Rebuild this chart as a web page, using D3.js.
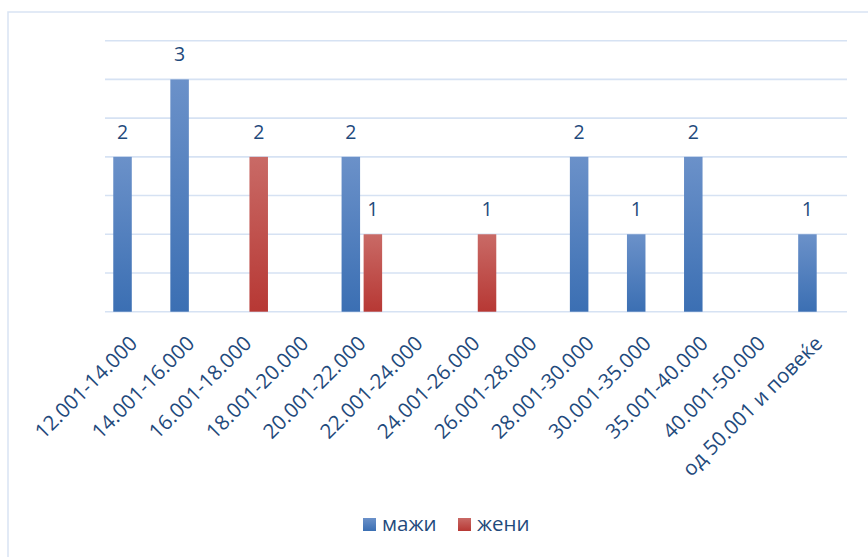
<!DOCTYPE html>
<html lang="mk">
<head>
<meta charset="utf-8">
<script src="https://d3js.org/d3.v7.min.js"></script>
<style>
  body { margin: 0; background: #fff; }
  svg { display: block; font-family: "Open Sans", sans-serif; }
</style>
</head>
<body>
<div id="chart"></div>
<script>
// categories (income ranges) and the two series
var categories = ["12.001-14.000", "14.001-16.000", "16.001-18.000", "18.001-20.000",
  "20.001-22.000", "22.001-24.000", "24.001-26.000", "26.001-28.000", "28.001-30.000",
  "30.001-35.000", "35.001-40.000", "40.001-50.000", "од 50.001 и повеќе"];
var seriesNames = ["мажи", "жени"];
var mazhi = [2, 3, 0, 0, 2, 0, 0, 0, 2, 1, 2, 0, 1];
var zheni = [0, 0, 2, 0, 1, 0, 1, 0, 0, 0, 0, 0, 0];

var width = 868, height = 557;
var plotLeft = 105, plotRight = 847, plotTop = 40.7, plotBottom = 311.7;
var textColor = "#1f4a7c";
var gridColor = "#d6e2f3";

var svg = d3.select("#chart").append("svg")
  .attr("width", width)
  .attr("height", height);

// gradients for the bars
var defs = svg.append("defs");
var grads = [
  { id: "gBlue", top: "#6b91c9", bottom: "#3b6fb3" },
  { id: "gRed", top: "#c96a66", bottom: "#b73834" }
];
grads.forEach(function(g) {
  var lg = defs.append("linearGradient")
    .attr("id", g.id)
    .attr("x1", 0).attr("y1", 0).attr("x2", 0).attr("y2", 1);
  lg.append("stop").attr("offset", "0%").attr("stop-color", g.top);
  lg.append("stop").attr("offset", "100%").attr("stop-color", g.bottom);
});

// chart border (left and top visible)
svg.append("rect")
  .attr("x", 8).attr("y", 12)
  .attr("width", 880).attr("height", 570)
  .attr("fill", "none")
  .attr("stroke", "#d9e4f3")
  .attr("stroke-width", 1.5);

var x = d3.scaleBand().domain(categories).range([plotLeft, plotRight]).padding(0);
var xs = d3.scaleBand().domain(seriesNames).range([0, x.bandwidth()])
  .paddingInner(0.16).paddingOuter(0.375);
var y = d3.scaleLinear().domain([0, 3.5]).range([plotBottom, plotTop]);

// gridlines
svg.append("g")
  .selectAll("line")
  .data(y.ticks(7))
  .enter()
  .append("line")
  .attr("x1", plotLeft).attr("x2", plotRight)
  .attr("y1", function(d) { return y(d); })
  .attr("y2", function(d) { return y(d); })
  .attr("stroke", gridColor)
  .attr("stroke-width", 1.6);

var rows = categories.map(function(c, i) {
  return [
    { cat: c, s: "мажи", v: mazhi[i], fill: "url(#gBlue)" },
    { cat: c, s: "жени", v: zheni[i], fill: "url(#gRed)" }
  ];
});
var bars = d3.merge(rows).filter(function(d) { return d.v > 0; });

svg.append("g")
  .selectAll("rect")
  .data(bars)
  .enter()
  .append("rect")
  .attr("x", function(d) { return x(d.cat) + xs(d.s); })
  .attr("y", function(d) { return y(d.v); })
  .attr("width", xs.bandwidth())
  .attr("height", function(d) { return y(0) - y(d.v); })
  .attr("fill", function(d) { return d.fill; });

// data labels
svg.append("g")
  .selectAll("text")
  .data(bars)
  .enter()
  .append("text")
  .attr("x", function(d) { return x(d.cat) + xs(d.s) + xs.bandwidth() / 2; })
  .attr("y", function(d) { return y(d.v) - 18; })
  .attr("text-anchor", "middle")
  .attr("fill", textColor)
  .style("font-size", "19.5px")
  .text(function(d) { return d.v; });

// category labels, rotated
svg.append("g")
  .selectAll("text")
  .data(categories)
  .enter()
  .append("text")
  .attr("transform", function(d) {
    return "translate(" + (x(d) + x.bandwidth() / 2) + "," + (plotBottom + 28) + ") rotate(-45)";
  })
  .attr("dy", "0.35em")
  .attr("text-anchor", "end")
  .attr("fill", textColor)
  .style("font-size", "20.5px")
  .text(function(d) { return d; });

// legend
var legend = svg.append("g");
var legendItems = [
  { name: seriesNames[0], fill: "url(#gBlue)", x: 363 },
  { name: seriesNames[1], fill: "url(#gRed)", x: 458 }
];
legendItems.forEach(function(d) {
  legend.append("rect")
    .attr("x", d.x).attr("y", 518)
    .attr("width", 13).attr("height", 13)
    .attr("fill", d.fill);
  legend.append("text")
    .attr("x", d.x + 19).attr("y", 531)
    .attr("fill", textColor)
    .style("font-size", "20.5px")
    .text(d.name);
});
</script>
</body>
</html>
